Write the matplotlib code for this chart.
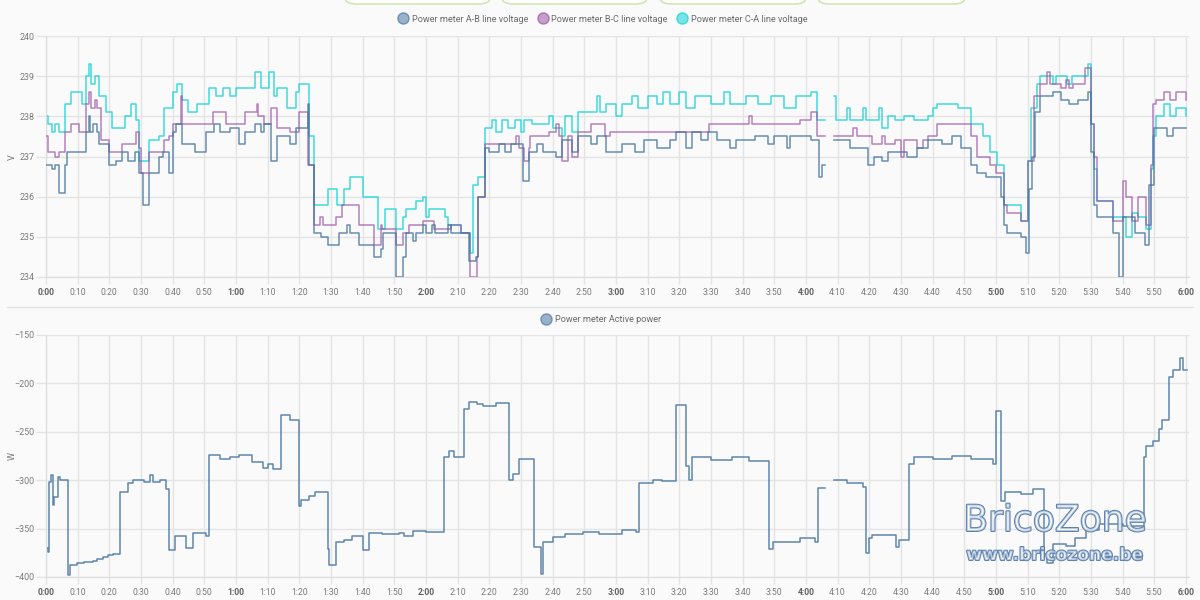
import numpy as np
import matplotlib.pyplot as plt
import matplotlib.patheffects as pe
from matplotlib.lines import Line2D
from matplotlib.patches import FancyBboxPatch

plt.rcParams["font.family"] = ["Roboto", "DejaVu Sans"]

NAN = np.nan

# minutes since 0:00, step values (post)
ab_t = [0, 2, 3, 4, 6, 6.5, 12.6, 13.5, 14, 15, 16, 16.8, 20, 22, 24, 26, 28, 29.5, 30.5,
        32.6, 35.8, 37, 38.9, 40, 41, 43, 47, 50.5, 53, 55, 58, 61, 63, 66, 68, 69, 71, 73,
        77, 79, 82.6, 83, 84.6, 87, 89, 92.5, 95, 96, 99, 103.5, 105.7, 106.5, 110.5, 112.6,
        113.6, 116, 117, 119, 120, 122, 123, 127, 128, 133.6, 135.7, 136.5, 138.5, 140, 143,
        145, 147, 150.5, 152.6, 155, 157, 161, 163, 166, 168, 172, 174, 177, 182, 186, 189,
        193, 197, 199, 202, 204, 207, 209, 212, 216, 218, 224, 228, 230, 234, 235, 241.5,
        244, 245, 246, 249, 254, 259.5, 261.6, 264, 266, 268, 272, 275, 278.5, 283, 286, 289,
        292, 294, 297, 301.5, 302.5, 303.5, 308, 309.5, 310.5, 311.5, 312.5, 314, 318, 320.5,
        323, 326, 329, 330, 331, 332, 337, 339, 340, 344, 347, 348.5, 350, 354, 356, 360]
ab_v = [236.8, 236.7, 236.8, 236.1, 236.8, 237.1, 237.6, 238.0, 237.6, 237.8, 237.6, 237.3,
        236.8, 236.9, 237.1, 236.9, 237.1, 236.6, 235.8, 236.6, 237.0, 237.1, 236.6, 237.6,
        237.8, 237.3, 237.1, 237.6, 237.8, 237.6, 237.7, 237.3, 237.6, 237.8, 237.6, 237.8,
        236.9, 237.5, 237.3, 237.7, 238.3, 236.8, 235.1, 235.0, 234.8, 235.1, 235.3, 235.1,
        234.8, 234.5, 234.7, 235.1, 234.0, 234.5, 235.1, 234.9, 235.1, 235.3, 235.1, 235.3,
        235.1, 235.3, 235.1, 234.4, 234.5, 236.0, 237.2, 237.1, 237.3, 237.1, 237.3, 236.4,
        237.1, 237.3, 237.1, 237.0, 237.4, 237.1, 237.5, 237.3, 237.5, 237.1, 237.3, 237.1,
        237.4, 237.2, 237.4, 237.6, 237.2, 237.6, 237.4, 237.6, 237.4, 237.2, 237.4, 237.5,
        237.3, 237.5, 237.2, 237.5, 237.4, 236.5, 236.8, NAN, 237.4, 237.2, 236.8, 237.0,
        236.9, 237.1, 237.1, 237.0, 237.2, 237.4, 237.3, 237.5, 237.2, 236.8, 236.6, 236.5,
        236.0, 235.3, 235.1, 235.0, 234.6, 236.2, 237.0, 238.1, 238.5, 238.6, 238.4, 238.3,
        238.4, 238.6, 237.1, 235.8, 235.5, 235.1, 234.0, 235.5, 235.1, 234.8, 236.3, 237.7,
        237.5, 237.7, 237.7]

bc_t = [0, 0.5, 3, 4, 6, 8, 10.5, 12.6, 13.5, 14.2, 15.5, 16, 17.4, 20, 24, 28.4, 29.5, 30,
        32.6, 37.4, 39, 40, 42.5, 43, 52.6, 57, 63, 66.5, 67, 69, 71, 73, 77, 80, 82.6, 84.6,
        86.5, 87.5, 91.5, 93.5, 99, 103.6, 105.7, 106, 110.5, 112.6, 114.7, 119, 122.6, 127.9,
        131, 134, 136, 136.5, 138.5, 148.6, 149.5, 151, 152.6, 153, 159, 161, 162, 163, 165,
        166, 168, 172, 176.5, 178, 209.5, 222, 223, 238, 241.5, 243.5, 246, 249, 255, 256,
        261, 264, 265, 268, 270, 271, 275, 277, 278.5, 281.5, 292, 294, 298, 300, 302.5,
        303.5, 308, 310, 312, 314, 316, 317, 320.5, 322, 323, 324.5, 328, 330, 331, 332, 337,
        340, 341, 343, 345, 347.5, 349, 349.5, 350.5, 353, 355, 357, 360]
bc_v = [237.5, 237.1, 237.0, 237.1, 237.6, 237.8, 237.6, 238.3, 238.6, 238.2, 238.4, 238.2,
        237.4, 237.1, 237.3, 237.6, 237.2, 236.6, 237.1, 237.4, 237.5, 237.8, 238.5, 237.8,
        238.1, 237.8, 238.1, 238.3, 238.0, 237.8, 238.2, 237.7, 237.6, 238.1, 236.8, 235.3,
        235.5, 235.3, 235.5, 235.8, 235.3, 234.8, 235.3, 235.2, 234.8, 235.1, 235.3, 235.4,
        235.2, 235.3, 235.1, 234.0, 234.5, 236.0, 237.3, 237.5, 237.2, 236.9, 237.2, 237.5,
        237.6, 237.8, 237.5, 236.9, 237.5, 237.0, 237.6, 237.8, 237.5, 237.6, 237.8, 238.0,
        237.8, 237.9, 238.1, 237.5, NAN, 237.5, 237.7, 237.5, 237.3, 237.5, 237.3, 237.4,
        237.0, 237.4, 237.2, 237.4, 237.5, 237.8, 237.5, 237.0, 236.8, 236.6, 235.8, 235.6,
        235.4, 236.9, 238.5, 238.8, 239.1, 238.8, 238.7, 238.9, 238.7, 238.8, 239.2, 237.8,
        237.0, 235.9, 235.4, 236.4, 236.0, 235.4, 236.0, 235.3, 236.8, 238.3, 238.4, 238.6,
        238.4, 238.6, 238.4]

ca_t = [0, 0.5, 2, 3, 4, 6, 8, 11.5, 12.6, 13.5, 14.2, 15.5, 16.8, 19, 21, 25, 27, 28.4,
        29.5, 32.6, 35.8, 37.4, 40, 41.5, 43, 45, 47.6, 51.6, 53.7, 56, 58, 60, 66, 68, 70.5,
        72, 73, 76, 79, 80, 83, 84.5, 89, 92, 94, 96, 100, 104.7, 107, 110.5, 112.6, 113.6,
        117, 119, 120, 121, 126, 127, 131, 134, 135, 136.5, 138.5, 141, 142, 144, 146, 148,
        150, 151, 153.5, 159, 160, 163, 164, 166, 168, 174, 175, 177, 180, 182, 185, 187, 190,
        193, 195, 197, 200, 202, 205, 210, 214, 216, 221, 225, 229, 233, 237, 241.5, 243.5,
        246, 249, 249.5, 253, 254, 258, 259, 263, 264, 266, 268, 271, 274, 278.5, 280, 281.5,
        288, 292, 296, 298, 300.5, 302.5, 308, 310, 311, 313, 314, 318, 319, 322.6, 324, 329,
        330, 331, 332, 337, 341, 343, 345, 347.5, 349, 349.5, 350.5, 353, 355, 357, 360]
ca_v = [238.0, 237.8, 237.6, 237.8, 237.6, 238.3, 238.6, 238.3, 239.0, 239.3, 238.8, 239.0,
        238.5, 238.1, 237.7, 238.0, 238.3, 237.9, 236.9, 237.4, 237.5, 238.2, 238.6, 238.8,
        238.4, 238.1, 238.3, 238.7, 238.5, 238.7, 238.5, 238.7, 239.1, 238.7, 239.1, 238.5,
        238.7, 238.2, 238.6, 238.8, 237.5, 235.8, 236.2, 235.8, 236.2, 236.5, 236.0, 235.2,
        235.7, 235.2, 235.5, 235.7, 235.9, 236.0, 235.5, 235.7, 235.5, 235.3, 235.1, 234.6,
        236.3, 236.5, 237.7, 237.9, 237.6, 237.9, 237.7, 237.9, 237.6, 237.9, 237.8, 238.0,
        237.7, 237.5, 238.0, 237.6, 238.1, 238.5, 238.1, 238.3, 238.0, 238.3, 238.5, 238.2,
        238.5, 238.3, 238.6, 238.3, 238.6, 238.2, 238.5, 238.3, 238.6, 238.3, 238.5, 238.3,
        238.5, 238.2, 238.5, 238.6, 237.9, NAN, 238.5, 237.9, 238.2, 237.9, 238.2, 237.9,
        238.2, 237.7, 238.0, 237.9, 238.0, 237.9, 238.0, 238.2, 238.3, 238.2, 237.8, 237.5,
        237.1, 236.8, 235.8, 235.4, 236.9, 238.2, 238.8, 239.0, 238.8, 239.0, 238.8, 239.0,
        239.3, 237.8, 236.7, 235.9, 235.5, 235.0, 235.6, 235.5, 235.2, 236.7, 237.5, 238.0,
        238.3, 238.0, 238.2, 238.0]

pw_t = [0, 0.5, 1, 1.5, 2.1, 2.6, 3.9, 4.4, 7, 7.5, 9.7, 12, 14.9, 16, 18, 19.5, 21.2, 23.3,
        26, 27.5, 29.6, 31, 32.7, 33.8, 36, 38, 39, 40.6, 44.3, 46.4, 50.6, 51.6, 55, 58, 61,
        65, 68.4, 70, 71.6, 74.2, 77, 80, 80.5, 83, 85, 89, 89.4, 91.5, 94, 96.7, 100, 102,
        106, 111.6, 113, 116, 120, 125.8, 127.4, 129, 132, 133.7, 136, 138, 142, 146.3, 147.4,
        149.5, 154.2, 156.3, 157, 160, 164, 169.5, 174.7, 182, 186.3, 187.4, 191.6, 194.7, 199,
        202, 203, 204, 210, 216.8, 222, 228.4, 229.5, 238, 243, 243.7, 246, 249, 253, 258, 259,
        260, 261, 268.4, 269.5, 272.6, 274.2, 280, 286, 292, 299, 300, 301.6, 303, 308, 311.6,
        315.3, 316.3, 318, 322, 325, 328.4, 332.6, 340, 346.8, 347.4, 349.5, 351.6, 352.6,
        354.7, 355.8, 358, 359, 360.5]
pw_v = [-370, -374, -302, -295, -326, -317, -297, -300, -398, -388, -386, -384, -383, -381,
        -379, -377, -376, -312, -303, -300, -300, -302, -295, -302, -300, -309, -372, -358,
        -370, -355, -358, -274, -278, -276, -274, -281, -287, -283, -288, -233, -238, -327,
        -320, -316, -312, -371, -388, -364, -362, -358, -372, -355, -356, -355, -358, -352,
        -353, -276, -270, -276, -226, -219, -221, -223, -220, -300, -294, -278, -369, -397,
        -364, -359, -356, -354, -356, -351, -354, -303, -300, -301, -222, -285, -300, -276,
        -279, -276, -280, -371, -364, -360, -364, -308, NAN, -300, -303, -307, -375, -360,
        -357, -369, -362, -283, -276, -278, -275, -278, -283, -228, -321, -312, -314, -309,
        -376, -386, -366, -368, -360, -351, -345, -347, -276, -265, -259, -247, -238, -193,
        -186, -174, -186, -186]

AB_COL = "#44739e"
BC_COL = "#984ea3"
CA_COL = "#00d2d5"
GRID = "#e4e4e4"
TXT = "#7a7a7a"

xticks = list(range(0, 361, 10))
xlabels = [f"{m // 60}:{m % 60:02d}" for m in xticks]

fig = plt.figure(figsize=(12, 6), dpi=100)
fig.patch.set_facecolor("#fafafa")

ax1 = fig.add_axes([46 / 1200, 1 - 277 / 600, 1143 / 1200, 241 / 600])
ax2 = fig.add_axes([46 / 1200, 1 - 577 / 600, 1143 / 1200, 242 / 600])

ax1.step(ab_t, ab_v, where="post", color=AB_COL, lw=1.1, alpha=0.8, zorder=4)
ax1.step(bc_t, bc_v, where="post", color=BC_COL, lw=1.1, alpha=0.7, zorder=3)
ax1.step(ca_t, ca_v, where="post", color=CA_COL, lw=1.1, alpha=0.75, zorder=2)
ax2.step(pw_t, pw_v, where="post", color=AB_COL, lw=1.1, alpha=0.85)

ax1.set_ylim(234, 240)
ax1.set_yticks(range(234, 241))
ax2.set_ylim(-400, -150)
ax2.set_yticks(range(-400, -149, 50))

for ax in (ax1, ax2):
    ax.set_facecolor("#fafafa")
    ax.set_xlim(0, 361)
    ax.set_xticks(xticks)
    ax.set_xticklabels(xlabels)
    ax.grid(True, color=GRID, lw=1)
    ax.set_axisbelow(True)
    for s in ("top", "right"):
        ax.spines[s].set_visible(False)
    for s in ("left", "bottom"):
        ax.spines[s].set_color("#dcdcdc")
    ax.tick_params(axis="x", length=5, width=1, color=GRID, labelsize=6.2,
                   labelcolor=TXT, pad=3)
    ax.tick_params(axis="y", length=7, width=1, color=GRID, labelsize=6.4,
                   labelcolor=TXT, pad=1.5)
    for lab, m in zip(ax.get_xticklabels(), xticks):
        if m % 60 == 0:
            lab.set_fontweight("bold")
            lab.set_color("#606060")

fig.text(12 / 1200, 1 - 157 / 600, "V", rotation=90, ha="center", va="center",
         fontsize=6.5, color=TXT)
fig.text(12 / 1200, 1 - 456 / 600, "W", rotation=90, ha="center", va="center",
         fontsize=6.5, color=TXT)


def dot(c, label):
    return Line2D([], [], ls="none", marker="o", markersize=8, markeredgewidth=1,
                  markerfacecolor=c + "88", markeredgecolor=c + "aa", label=label)


leg_kw = dict(loc="center", frameon=False, fontsize=6.6, labelcolor="#6a6a6a",
              handletextpad=0.45, columnspacing=1.1, handlelength=1.0)
fig.legend(handles=[dot(AB_COL, "Power meter A-B line voltage"),
                    dot(BC_COL, "Power meter B-C line voltage"),
                    dot(CA_COL, "Power meter C-A line voltage")],
           ncol=3, bbox_to_anchor=(603 / 1200, 1 - 19 / 600), **leg_kw)
fig.legend(handles=[dot(AB_COL, "Power meter Active power")],
           ncol=1, bbox_to_anchor=(601 / 1200, 1 - 320 / 600), **leg_kw)

# separator between the two cards and the cut-off buttons on top
fig.add_artist(Line2D([7 / 1200, 1193 / 1200], [1 - 307 / 600] * 2, color="#e2e2e2",
                      lw=1, transform=fig.transFigure))
for x0, x1 in [(345, 490), (502, 647), (660, 806), (818, 965)]:
    fig.add_artist(FancyBboxPatch((x0 / 1200, 1 - 4 / 600), (x1 - x0) / 1200, 0.05,
                                  boxstyle="round,pad=0,rounding_size=0.01",
                                  transform=fig.transFigure, facecolor="#ffffff",
                                  edgecolor="#cfe6b4", lw=1.2))

# watermark
wm = [pe.Stroke(linewidth=1.4, foreground="#5a7fae"), pe.Normal()]
fig.text(1055 / 1200, 1 - 521 / 600, "BricoZone", ha="center", va="center",
         fontsize=26, family="DejaVu Sans", color=(1, 1, 1, 0.55), path_effects=wm)
fig.text(1055 / 1200, 1 - 555 / 600, "www.bricozone.be", ha="center", va="center",
         fontsize=12.3, family="DejaVu Sans", fontweight="bold",
         color=(1, 1, 1, 0.55), path_effects=wm)

fig.savefig("out.png", dpi=100, facecolor=fig.get_facecolor())
